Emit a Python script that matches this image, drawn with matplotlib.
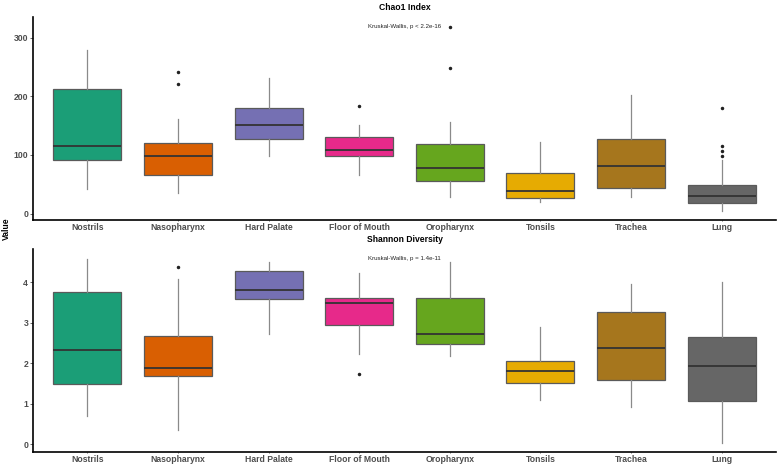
import matplotlib
matplotlib.use("Agg")
import matplotlib.pyplot as plt

plt.rcParams["font.family"] = ["Liberation Sans", "DejaVu Sans"]

SITES = ["Nostrils", "Nasopharynx", "Hard Palate", "Floor of Mouth",
         "Oropharynx", "Tonsils", "Trachea", "Lung"]
COLORS = ["#1B9E77", "#D95F02", "#7570B3", "#E7298A",
          "#66A61E", "#E6AB02", "#A6761D", "#666666"]

# Chao1 box statistics
chao_low = [41.5, 35, 98, 65.5, 28.4, 19.3, 28.4, 4.5]
chao_q1 = [90.6, 65, 126.5, 98, 56.4, 27.3, 44.4, 17.6]
chao_med = [114.5, 98.5, 152, 107.7, 78.6, 38, 81.4, 30.8]
chao_q3 = [212, 121, 180.5, 131, 118, 68.4, 126.5, 48.4]
chao_high = [280, 162, 231, 150.4, 156.6, 121.4, 201.7, 91]
chao_out = [[], [241.5, 222], [], [184], [319, 248], [], [], [181, 115.6, 107, 98]]

# Shannon box statistics
shan_low = [0.70, 0.36, 2.73, 2.22, 2.17, 1.09, 0.93, 0.02]
shan_q1 = [1.50, 1.69, 3.58, 2.95, 2.48, 1.51, 1.58, 1.07]
shan_med = [2.32, 1.88, 3.82, 3.48, 2.71, 1.82, 2.37, 1.93]
shan_q3 = [3.75, 2.67, 4.27, 3.62, 3.60, 2.06, 3.26, 2.66]
shan_high = [4.575, 4.07, 4.50, 4.24, 4.51, 2.90, 3.95, 4.00]
shan_out = [[], [4.37], [], [1.74], [], [], [], []]


def make_stats(low, q1, med, q3, high, out):
    return [
        {"whislo": lo, "q1": a, "med": m, "q3": b, "whishi": hi, "fliers": f}
        for lo, a, m, b, hi, f in zip(low, q1, med, q3, high, out)
    ]


def draw_panel(ax, stats, title, label, label_y, ylim, yticks):
    bp = ax.bxp(
        stats,
        positions=range(1, len(SITES) + 1),
        widths=0.75,
        patch_artist=True,
        showcaps=False,
        boxprops=dict(edgecolor="#5a5a5a", linewidth=0.9),
        whiskerprops=dict(color="#8a8a8a", linewidth=0.9),
        medianprops=dict(color="#333333", linewidth=1.3),
        flierprops=dict(marker="o", markersize=1.5, markerfacecolor="#222222",
                        markeredgecolor="#222222"),
    )
    for patch, color in zip(bp["boxes"], COLORS):
        patch.set_facecolor(color)
    ax.set_xlim(0.4, 8.6)
    ax.set_ylim(*ylim)
    ax.set_yticks(yticks)
    ax.set_xticks(range(1, len(SITES) + 1))
    ax.set_xticklabels(SITES)
    ax.tick_params(axis="both", labelsize=6.2, colors="#4d4d4d", width=0.6)
    ax.tick_params(axis="y", length=2, pad=1.5)
    ax.tick_params(axis="x", length=0.8, pad=1.2)
    for lab in ax.get_xticklabels() + ax.get_yticklabels():
        lab.set_fontweight("bold")
    for side in ("top", "right"):
        ax.spines[side].set_visible(False)
    for side in ("left", "bottom"):
        ax.spines[side].set_linewidth(1.2)
        ax.spines[side].set_color("black")
    ax.set_title(title, fontsize=6.2, fontweight="bold", pad=5)
    ax.text(4.1, label_y, label, fontsize=4.4, va="center", ha="left", color="#222222")


fig = plt.figure(figsize=(7.78, 4.65), dpi=100)
ax_top = fig.add_axes([33 / 778, (465 - 220) / 465, 743 / 778, 203 / 465])
ax_bot = fig.add_axes([33 / 778, (465 - 452) / 465, 743 / 778, 203 / 465])

draw_panel(ax_top, make_stats(chao_low, chao_q1, chao_med, chao_q3, chao_high, chao_out),
           "Chao1 Index", "Kruskal-Wallis, p < 2.2e-16", 319, (-11, 335.6), [0, 100, 200, 300])
draw_panel(ax_bot, make_stats(shan_low, shan_q1, shan_med, shan_q3, shan_high, shan_out),
           "Shannon Diversity", "Kruskal-Wallis, p = 1.4e-11", 4.575, (-0.19, 4.82), [0, 1, 2, 3, 4])

fig.text(0.008, 1 - 229 / 465, "Value", rotation=90, fontsize=6.2, fontweight="bold",
         va="center", ha="center")

fig.savefig("out.png", dpi=100)
